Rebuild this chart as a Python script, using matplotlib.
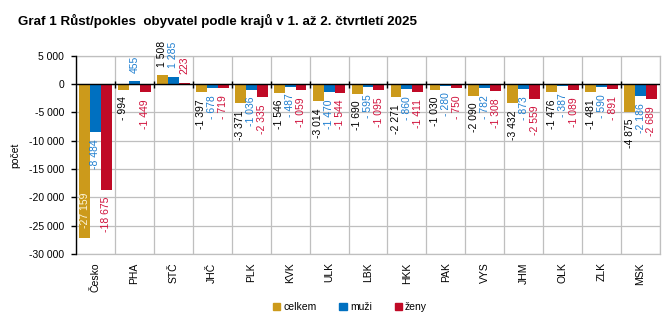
import matplotlib

matplotlib.use("Agg")
import matplotlib.pyplot as plt
from matplotlib.patches import Patch
import numpy as np

plt.rcParams["font.family"] = ["Liberation Sans", "DejaVu Sans"]

regions = ["Česko", "PHA", "STČ", "JHČ", "PLK", "KVK", "ULK", "LBK",
           "HKK", "PAK", "VYS", "JHM", "OLK", "ZLK", "MSK"]
celkem = [-27159, -994, 1508, -1397, -3371, -1546, -3014, -1690,
          -2271, -1030, -2090, -3432, -1476, -1481, -4875]
muzi = [-8484, 455, 1285, -678, -1036, -487, -1470, -595,
        -860, -280, -782, -873, -387, -590, -2186]
zeny = [-18675, -1449, 223, -719, -2335, -1059, -1544, -1095,
        -1411, -750, -1308, -2559, -1089, -891, -2689]
y_ticks = list(range(-30000, 5001, 5000))

series = [
    ("celkem", celkem, "#CC9A1B", "black"),
    ("muži", muzi, "#0070C0", "#1F7FD0"),
    ("ženy", zeny, "#C00A26", "#D0103A"),
]


def fmt(v):
    # thousands grouped by a space, "- 678" style for small negatives
    s = f"{abs(v):,}".replace(",", " ")
    if v < 0:
        return ("- " if abs(v) < 1000 else "-") + s
    return s


fig = plt.figure(figsize=(6.66, 3.26), dpi=100)
ax = fig.add_axes([0.1141, 0.2209, 0.8769, 0.6082])

x = np.arange(len(regions))
width = 0.28

for i, (name, values, color, label_color) in enumerate(series):
    pos = x + (i - 1) * width
    ax.bar(pos, values, width, color=color, zorder=3)
    for px, v in zip(pos, values):
        if name == "celkem" and v < -20000:
            # long bar: label sits inside the bar end
            ax.annotate(fmt(v), (px, v), xytext=(0, 7), textcoords="offset points",
                        rotation=90, ha="center", va="bottom", fontsize=7.5,
                        color="#FFF8E0", zorder=5)
        elif v < 0:
            ax.annotate(fmt(v), (px, v), xytext=(0, -5), textcoords="offset points",
                        rotation=90, ha="center", va="top", fontsize=7.5,
                        color=label_color, zorder=5)
        else:
            ax.annotate(fmt(v), (px, v), xytext=(0, 6), textcoords="offset points",
                        rotation=90, ha="center", va="bottom", fontsize=7.5,
                        color=label_color, zorder=5)

ax.set_xlim(-0.5, len(regions) - 0.5)
ax.set_ylim(-30000, 5000)

# grid: horizontal at each y tick, vertical between the regions
ax.set_yticks(y_ticks)
ax.set_yticklabels([fmt(t) if t != 0 else "0" for t in y_ticks])
for t in y_ticks:
    ax.axhline(t, color="#BFBFBF", lw=0.9, zorder=1)
bounds = np.arange(len(regions) + 1) - 0.5
for b in bounds:
    ax.axvline(b, color="#BFBFBF", lw=0.9, zorder=1)

# zero line with small ticks at the region boundaries
ax.axhline(0, color="black", lw=1.0, zorder=4)
ax.vlines(bounds[1:-1], -650, 450, color="black", lw=1.0, zorder=4)

ax.set_xticks(x)
ax.set_xticklabels(regions, rotation=90, fontsize=7.5)
ax.tick_params(axis="x", length=0, pad=6)
ax.tick_params(axis="y", labelsize=7.5, length=3.5, width=1, pad=5, direction="out")

for side in ["top", "right", "bottom"]:
    ax.spines[side].set_color("#BFBFBF")
    ax.spines[side].set_linewidth(0.9)
ax.spines["left"].set_color("black")
ax.spines["left"].set_linewidth(1.0)
ax.spines["left"].set_zorder(4)

ax.set_ylabel("počet", fontsize=7.5)
ax.yaxis.set_label_coords(-0.095, 0.5)

fig.text(18 / 666, 1 - 21 / 326,
         "Graf 1 Růst/pokles  obyvatel podle krajů v 1. až 2. čtvrtletí 2025",
         fontsize=9.6, fontweight="bold", va="center", ha="left")

handles = [Patch(color=c, label=n) for n, _, c, _ in series]
fig.legend(handles=handles, loc="center", bbox_to_anchor=(350 / 666, 1 - 307 / 326),
           ncol=3, frameon=False, fontsize=7.5, handlelength=0.7, handleheight=0.7,
           handletextpad=0.3, columnspacing=2.2)

fig.savefig("out.png", dpi=100)
